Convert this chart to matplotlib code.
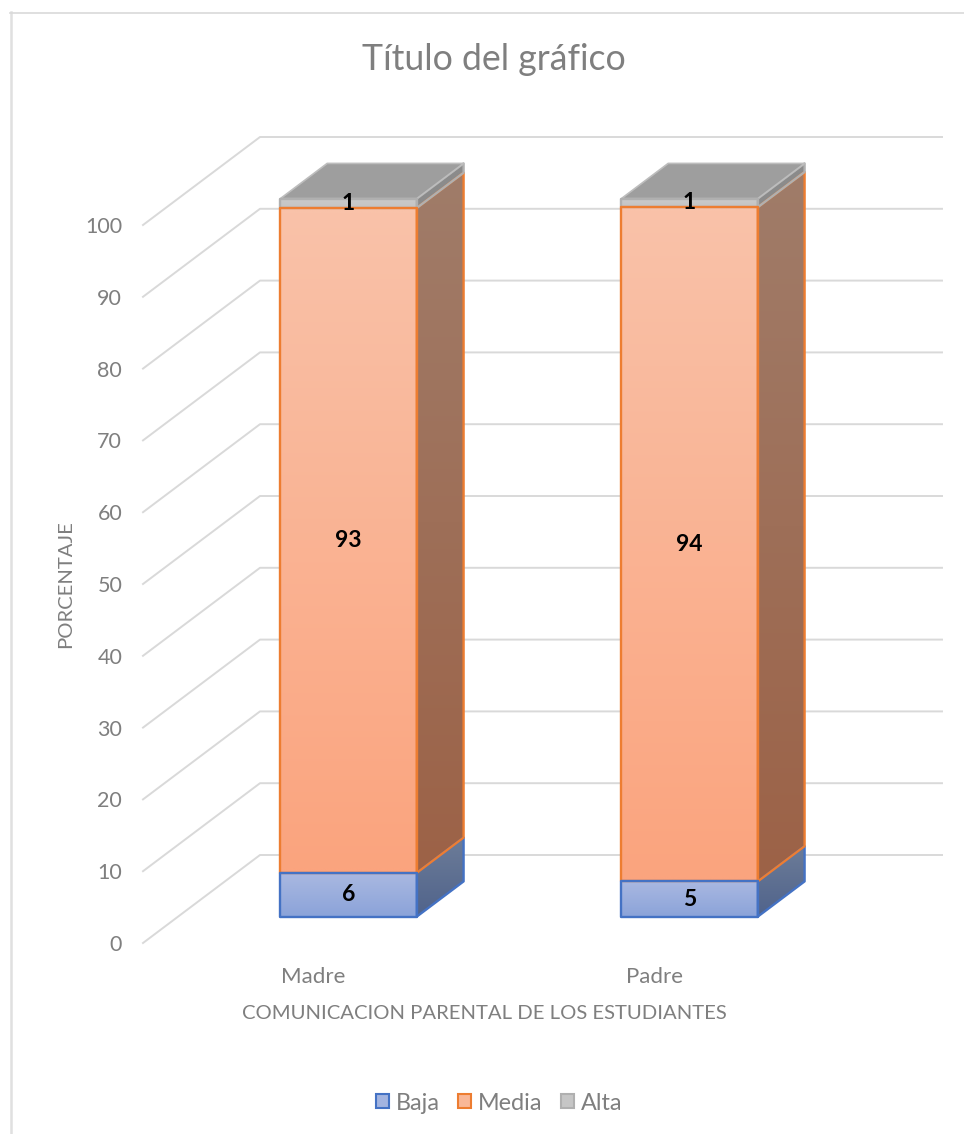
import numpy as np
import matplotlib
matplotlib.use('Agg')
import matplotlib.pyplot as plt
from matplotlib.colors import to_rgb
from matplotlib.lines import Line2D
from matplotlib.patches import Patch, Polygon

categories = ['Madre', 'Padre']
series_names = ['Baja', 'Media', 'Alta']
baja = [6.1, 4.9]
media = [92.6, 93.9]
alta = [1.3, 1.2]
y_ticks = [0, 10, 20, 30, 40, 50, 60, 70, 80, 90, 100]

W, H = 964, 1134
plt.rcParams['font.family'] = ['Lato', 'DejaVu Sans']

# front plane of the fake 3d box, in pixels
LEFT, RIGHT, BOTTOM, TOP = 143, 825, 943, 225
# how far one unit of depth moves a point, in data units
DX = 117 / ((RIGHT - LEFT) / 2)
DY = 88 / ((BOTTOM - TOP) / 100)
BAR_W = 0.4
D0, D1 = 0.3, 0.7

# face colours: front top, front bottom, side top, side bottom, edge
styles = [
    ('#a9b8e1', '#8ba3d9', '#6c7c98', '#50638b', '#4472c4'),
    ('#f9c2a9', '#fba47e', '#a07c69', '#9c6247', '#ed7d31'),
    ('#cbcbcb', '#c4c4c4', '#8b8b8b', '#8b8b8b', '#b0b0b0'),
]
swatches = ['#a3b4e0', '#f9b797', '#c6c6c6']


def proj(x, y, d):
    return (x + d * DX, y + d * DY)


def gradient(ax, verts, c_top, c_bottom, zorder):
    xs = [v[0] for v in verts]
    ys = [v[1] for v in verts]
    t = np.linspace(0, 1, 64)[:, None]
    img = (1 - t) * np.array(to_rgb(c_top)) + t * np.array(to_rgb(c_bottom))
    im = ax.imshow(img[:, None, :], extent=(min(xs), max(xs), min(ys), max(ys)),
                   aspect='auto', zorder=zorder, interpolation='bilinear', origin='upper')
    # faces stick out of the axes box, so only the polygon may clip them
    im.set_clip_box(fig.bbox)
    im.set_clip_path(Polygon(verts, transform=ax.transData))


def outline(ax, verts, color, zorder, lw=1.7):
    ax.add_patch(Polygon(verts, closed=True, fill=False, edgecolor=color, lw=lw,
                         clip_on=False, zorder=zorder, joinstyle='round'))


fig = plt.figure(figsize=(W / 100, H / 100), dpi=100)
ax = fig.add_axes([LEFT / W, 1 - BOTTOM / H, (RIGHT - LEFT) / W, (BOTTOM - TOP) / H])

# outer chart frame
fig.add_artist(Line2D([10.5 / W, 10.5 / W], [0, 1 - 12 / H], color='#e0e0e0', lw=1.8))
fig.add_artist(Line2D([10 / W, 1], [1 - 12.5 / H, 1 - 12.5 / H], color='#d9d9d9', lw=1.2))

# walls
for v in y_ticks:
    p0 = proj(0, v, 0)
    p1 = proj(0, v, 1)
    p2 = proj(2, v, 1)
    ax.plot([p0[0], p1[0], p2[0]], [p0[1], p1[1], p2[1]], color='#d9d9d9', lw=1.4,
            clip_on=False, zorder=1)

for i, name in enumerate(categories):
    x0 = i + 0.5 - BAR_W / 2
    x1 = i + 0.5 + BAR_W / 2
    base = 0
    for j, vals in enumerate([baja, media, alta]):
        top = base + vals[i]
        c_top, c_bot, s_top, s_bot, edge = styles[j]
        front = [proj(x0, base, D0), proj(x1, base, D0), proj(x1, top, D0), proj(x0, top, D0)]
        side = [proj(x1, base, D0), proj(x1, base, D1), proj(x1, top, D1), proj(x1, top, D0)]
        gradient(ax, side, s_top, s_bot, 3)
        gradient(ax, front, c_top, c_bot, 3)
        outline(ax, side, edge, 4)
        outline(ax, front, edge, 5 + (2 - j))
        if j == 2:
            lid = [proj(x0, top, D0), proj(x1, top, D0), proj(x1, top, D1), proj(x0, top, D1)]
            ax.add_patch(Polygon(lid, closed=True, facecolor='#9e9e9e', edgecolor='#bdbdbd', lw=1.2,
                                 clip_on=False, zorder=4))
        lx, ly = proj(i + 0.5, base + vals[i] / 2, D0)
        ax.text(lx, ly, f'{vals[i]:.0f}', ha='center', va='center', color='black',
                fontsize=16.5, fontweight='bold', zorder=10, clip_on=False)
        base = top

ax.set_xlim(0, 2)
ax.set_ylim(0, 100)
ax.set_xticks([0.5, 1.5], categories)
ax.set_yticks(y_ticks)
ax.tick_params(length=0, labelcolor='#7f7f7f')
ax.tick_params(axis='x', pad=17, labelsize=16)
ax.tick_params(axis='y', pad=15, labelsize=15.5)
ax.set_xlabel('COMUNICACION PARENTAL DE LOS ESTUDIANTES', fontsize=14.6, color='#7f7f7f', labelpad=13)
ax.set_ylabel('PORCENTAJE', fontsize=14.6, color='#7f7f7f', labelpad=8)
ax.patch.set_visible(False)
for s in ax.spines.values():
    s.set_visible(False)

fig.text(494 / W, 1 - 59 / H, 'Título del gráfico', ha='center', va='center', fontsize=25.7, color='#7f7f7f')

handles = [Patch(facecolor=c, edgecolor=s[4], lw=1.5, label=n) for c, s, n in zip(swatches, styles, series_names)]
fig.legend(handles=handles, loc='center', bbox_to_anchor=(499 / W, 1 - 1103 / H), ncol=3, frameon=False,
           fontsize=16.8, labelcolor='#7f7f7f', handlelength=0.56, handleheight=0.56,
           handletextpad=0.28, columnspacing=0.8)

fig.savefig('out.png', dpi=100)
